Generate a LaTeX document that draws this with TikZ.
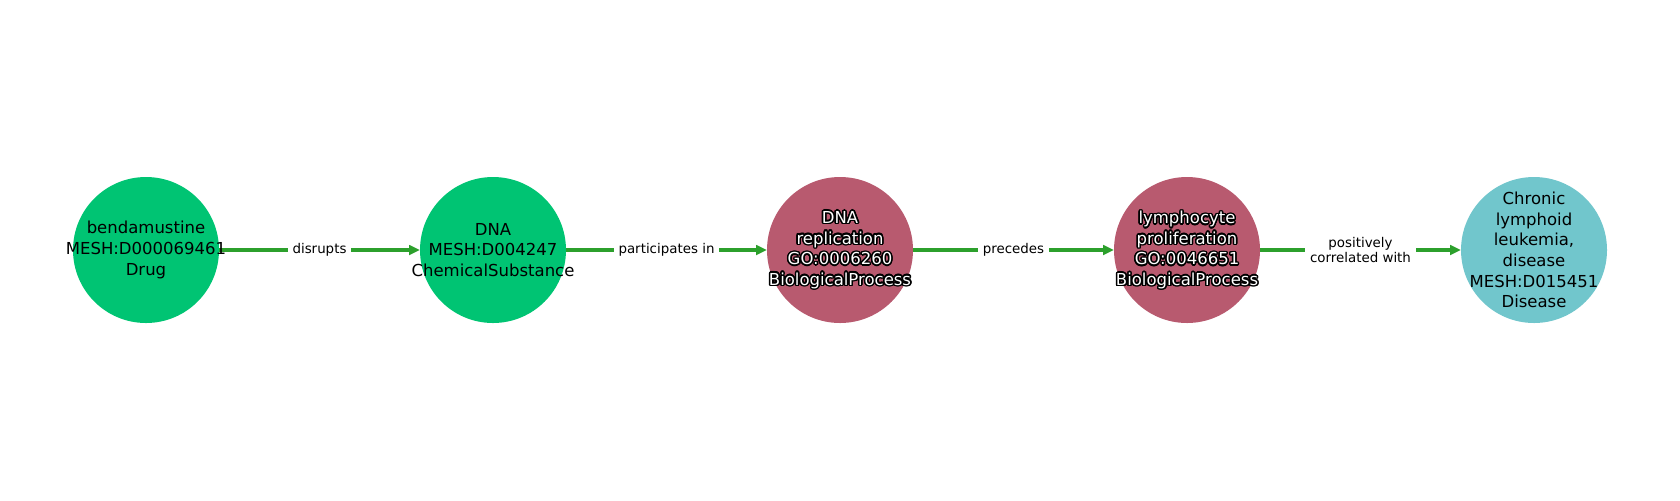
\documentclass[tikz,border=0pt]{standalone}
\usepackage{fontspec}
\setmainfont{DejaVu Sans}
\usetikzlibrary{arrows.meta,calc}
\definecolor{ngreen}{RGB}{0,196,115}
\definecolor{nred}{RGB}{184,90,111}
\definecolor{nteal}{RGB}{113,198,204}
\definecolor{egreen}{RGB}{44,160,44}
\begin{document}
\begin{tikzpicture}[x=0.5pt,y=-0.5pt,
  nodec/.style={circle,minimum size=73pt,inner sep=0pt,outer sep=0pt,draw=none},
  ntext/.style={align=center,font=\fontsize{8.25}{10.3}\selectfont,inner sep=0pt},
  elabel/.style={fill=white,inner sep=2.5pt,align=center,text=black,font=\fontsize{6.7}{7.8}\selectfont},
  edge/.style={draw=egreen,line width=2pt,-{Triangle[length=5.5pt,width=4.8pt]}}]
\useasboundingbox (0,0) rectangle (1680,500);
\node[nodec,fill=ngreen] (n1) at (146,250) {};
\node[nodec,fill=ngreen] (n2) at (493,250) {};
\node[nodec,fill=nred] (n3) at (840,250) {};
\node[nodec,fill=nred] (n4) at (1187,250) {};
\node[nodec,fill=nteal] (n5) at (1534,250) {};
\draw[edge] (n1) -- node[elabel] (l1) {disrupts} (n2);
\draw[edge] (n2) -- node[elabel] (l2) {participates in} (n3);
\draw[edge] (n3) -- node[elabel] (l3) {precedes} (n4);
\draw[edge] (n4) -- node[elabel] (l4) {positively\\correlated with} (n5);
\node[ntext] (t1) at (n1) {bendamustine\\MESH:D000069461\\Drug};
\node[ntext] (t2) at (n2) {DNA\\MESH:D004247\\ChemicalSubstance};
\foreach \a in {0,22.5,...,337.5}{
  \node[ntext,text=black] (h3-\a) at ($(n3)+(\a:0.75pt)$) {DNA\\replication\\GO:0006260\\BiologicalProcess};
  \node[ntext,text=black] (h4-\a) at ($(n4)+(\a:0.75pt)$) {lymphocyte\\proliferation\\GO:0046651\\BiologicalProcess};
}
\node[ntext,text=white] (t3) at (n3) {DNA\\replication\\GO:0006260\\BiologicalProcess};
\node[ntext,text=white] (t4) at (n4) {lymphocyte\\proliferation\\GO:0046651\\BiologicalProcess};
\node[ntext] (t5) at (n5) {Chronic\\lymphoid\\leukemia,\\disease\\MESH:D015451\\Disease};
\end{tikzpicture}
\end{document}
